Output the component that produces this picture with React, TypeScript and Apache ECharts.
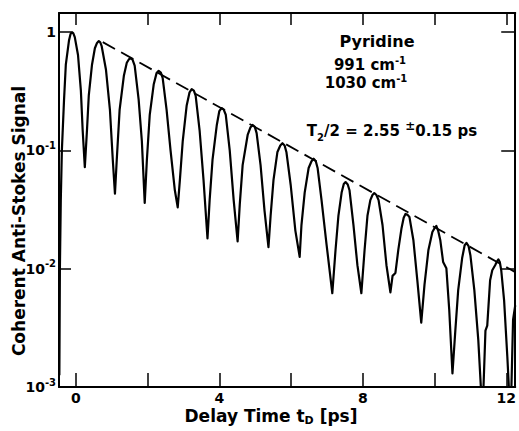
import React, { useEffect, useRef } from 'react';
import * as echarts from 'echarts';

// Delay time t_D [ps] and coherent anti-Stokes signal
const delayTime = [
  -0.46, -0.445, -0.42, -0.39, -0.33, -0.28, -0.19, -0.15, -0.11, -0.07, -0.03, 0.06, 0.14, 0.19, 0.25,
  0.31, 0.36, 0.45, 0.53, 0.59, 0.64, 0.68, 0.72, 0.84, 0.95, 1.03, 1.09,
  1.14, 1.22, 1.34, 1.42, 1.48, 1.53, 1.58, 1.64, 1.75, 1.84, 1.92,
  1.98, 2.06, 2.17, 2.25, 2.31, 2.37, 2.42, 2.53, 2.64, 2.76, 2.84,
  2.9, 2.98, 3.09, 3.17, 3.23, 3.29, 3.34, 3.45, 3.56, 3.67,
  3.73, 3.81, 3.93, 4.0, 4.06, 4.12, 4.18, 4.29, 4.4, 4.51,
  4.57, 4.65, 4.79, 4.87, 4.93, 4.99, 5.04, 5.15, 5.26, 5.37,
  5.43, 5.51, 5.62, 5.7, 5.76, 5.82, 5.87, 5.99, 6.12, 6.24,
  6.29, 6.38, 6.49, 6.57, 6.63, 6.69, 6.74, 6.85, 6.99, 7.15,
  7.24, 7.32, 7.41, 7.47, 7.52, 7.58, 7.63, 7.74, 7.85, 7.96,
  8.05, 8.13, 8.21, 8.27, 8.32, 8.38, 8.44, 8.55, 8.66, 8.77, 8.83, 8.91,
  8.99, 9.08, 9.14, 9.19, 9.25, 9.3, 9.41, 9.52, 9.63,
  9.72, 9.83, 9.94, 10.0, 10.05, 10.1, 10.16, 10.24, 10.33, 10.41, 10.5,
  10.58, 10.66, 10.77, 10.84, 10.89, 10.95, 11.0, 11.11, 11.22, 11.3, 11.36, 11.42, 11.47, 11.55, 11.61,
  11.69, 11.74, 11.78, 11.82, 11.86, 11.94, 12.03, 12.08, 12.14, 12.19, 12.25,
];
const signal = [
  0.00126, 0.0101, 0.038, 0.1, 0.266, 0.53, 0.855, 0.96, 1.0, 0.975, 0.907, 0.64, 0.32, 0.148, 0.072,
  0.148, 0.29, 0.53, 0.73, 0.81, 0.84, 0.82, 0.76, 0.48, 0.22, 0.083, 0.043,
  0.083, 0.22, 0.43, 0.55, 0.59, 0.6, 0.585, 0.52, 0.27, 0.12, 0.036,
  0.083, 0.2, 0.36, 0.45, 0.47, 0.455, 0.41, 0.22, 0.1, 0.046, 0.033,
  0.056, 0.12, 0.24, 0.31, 0.33, 0.32, 0.29, 0.148, 0.056, 0.018,
  0.038, 0.083, 0.164, 0.215, 0.228, 0.222, 0.2, 0.1, 0.038, 0.017,
  0.035, 0.075, 0.135, 0.157, 0.164, 0.158, 0.14, 0.075, 0.031, 0.0152,
  0.028, 0.056, 0.097, 0.11, 0.115, 0.11, 0.097, 0.051, 0.021, 0.0126,
  0.0234, 0.044, 0.071, 0.081, 0.085, 0.081, 0.071, 0.038, 0.016, 0.0062,
  0.0144, 0.028, 0.044, 0.052, 0.054, 0.0515, 0.046, 0.0234, 0.0107, 0.0062,
  0.0144, 0.028, 0.038, 0.042, 0.0436, 0.042, 0.038, 0.0234, 0.0107, 0.0063, 0.0087, 0.0092,
  0.0144, 0.022, 0.027, 0.029, 0.0285, 0.0274, 0.0175, 0.008, 0.0035,
  0.0073, 0.0144, 0.0204, 0.022, 0.023, 0.021, 0.0175, 0.0114, 0.0101, 0.0045, 0.0013,
  0.003, 0.0066, 0.0123, 0.0158, 0.0165, 0.0155, 0.013, 0.0066, 0.0025, 0.0009, 0.0009, 0.003, 0.0033, 0.008, 0.0097,
  0.0107, 0.0115, 0.012, 0.0114, 0.0097, 0.0054, 0.0018, 0.0009, 0.0009, 0.0037, 0.0049,
];

// Exponential envelope (dashed)
const envelopeTime = [0.75, 12.25];
const envelopeSignal = [0.823, 0.00936];

// Axis ticks and labels
const xLabelValues = [0, 4, 8, 12];
const xTickValues = [0, 2, 4, 6, 8, 10, 12];
const yDecadeExponents = [-3, -2, -1, 0];
const yDecadeLabels = ['{b|10}{s|-3}', '{b|10}{s|-2}', '{b|10}{s|-1}', '{b|1}'];

const FONT = 'DejaVu Sans';

export default function App() {
  const ref = useRef<HTMLDivElement>(null);

  useEffect(() => {
    document.body.style.margin = '0';
    const chart = echarts.init(ref.current!, null, { renderer: 'svg' });

    const curve = delayTime.map((t, i) => [t, signal[i]]);
    const envelope = envelopeTime.map((t, i) => [t, envelopeSignal[i]]);

    const xCommon = {
      type: 'value' as const,
      min: -0.47,
      max: 12.25,
      splitLine: { show: false },
      axisLine: { show: true, onZero: false, lineStyle: { color: '#000', width: 2 } },
    };
    const yCommon = {
      type: 'log' as const,
      logBase: 10,
      min: 0.001,
      max: 1.45,
      splitLine: { show: false },
      minorTick: { show: false },
      axisLine: { show: true, onZero: false, lineStyle: { color: '#000', width: 2 } },
    };

    const yLabel = (v: number) => {
      const e = Math.log10(v);
      const r = Math.round(e);
      if (Math.abs(e - r) > 1e-6) return '';
      const idx = yDecadeExponents.indexOf(r);
      return idx >= 0 ? yDecadeLabels[idx] : '';
    };

    const supRich = (size: number, line: number) => ({
      a: { fontFamily: FONT, fontWeight: 'bold', fontSize: size, lineHeight: line, fill: '#000' },
      s: { fontFamily: FONT, fontWeight: 'bold', fontSize: 10, lineHeight: 10, verticalAlign: 'top', fill: '#000' },
    });

    chart.setOption({
      animation: false,
      backgroundColor: '#fff',
      grid: { left: 59, right: 3, top: 13, bottom: 44, containLabel: false },
      xAxis: [
        {
          ...xCommon,
          position: 'bottom',
          axisTick: { show: true, inside: true, length: 14, customValues: xTickValues, lineStyle: { color: '#000', width: 1.5 } },
          axisLabel: {
            customValues: xLabelValues,
            color: '#000',
            fontFamily: FONT,
            fontWeight: 'bold',
            fontSize: 14,
            margin: 4,
          },
        },
        {
          ...xCommon,
          position: 'top',
          axisTick: { show: true, inside: true, length: 12, customValues: xTickValues, lineStyle: { color: '#000', width: 1.5 } },
          axisLabel: { show: false },
        },
      ],
      yAxis: [
        {
          ...yCommon,
          position: 'left',
          axisTick: { show: true, inside: true, length: 12, lineStyle: { color: '#000', width: 1.5 } },
          axisLabel: {
            color: '#000',
            margin: 3,
            formatter: yLabel,
            rich: {
              b: { fontFamily: FONT, fontWeight: 'bold', fontSize: 14, lineHeight: 20, color: '#000' },
              s: { fontFamily: FONT, fontWeight: 'bold', fontSize: 10, lineHeight: 12, verticalAlign: 'top', color: '#000' },
            },
          },
        },
        {
          ...yCommon,
          position: 'right',
          axisTick: { show: true, inside: true, length: 14, lineStyle: { color: '#000', width: 1.5 } },
          axisLabel: { show: false },
        },
      ],
      series: [
        {
          type: 'line',
          data: curve,
          showSymbol: false,
          symbol: 'none',
          clip: true,
          lineStyle: { color: '#000', width: 2.2, join: 'round' },
          xAxisIndex: 0,
          yAxisIndex: 0,
        },
        {
          type: 'line',
          data: envelope,
          showSymbol: false,
          symbol: 'none',
          clip: true,
          lineStyle: { color: '#000', width: 1.8, type: [14, 7] },
          xAxisIndex: 0,
          yAxisIndex: 0,
        },
      ],
      graphic: [
        {
          type: 'text',
          x: 377,
          y: 41,
          style: { text: 'Pyridine', font: `bold 16px "${FONT}"`, fill: '#000', textAlign: 'center', textVerticalAlign: 'middle' },
        },
        {
          type: 'text',
          x: 370,
          y: 65,
          style: {
            text: '{a|991 cm}{s|-1}',
            textAlign: 'center',
            textVerticalAlign: 'middle',
            rich: supRich(15, 20),
          },
        },
        {
          type: 'text',
          x: 366,
          y: 83,
          style: {
            text: '{a|1030 cm}{s|-1}',
            textAlign: 'center',
            textVerticalAlign: 'middle',
            rich: supRich(15, 20),
          },
        },
        {
          type: 'text',
          x: 392,
          y: 131,
          style: {
            text: '{a|T}{d|2}{a|/2 = 2.55 }{p|±}{a|0.15 ps}',
            textAlign: 'center',
            textVerticalAlign: 'middle',
            rich: {
              a: { fontFamily: FONT, fontWeight: 'bold', fontSize: 15, lineHeight: 22, fill: '#000' },
              d: { fontFamily: FONT, fontWeight: 'bold', fontSize: 10, lineHeight: 10, verticalAlign: 'bottom', fill: '#000' },
              p: { fontFamily: FONT, fontWeight: 'bold', fontSize: 12, lineHeight: 14, verticalAlign: 'top', fill: '#000' },
            },
          },
        },
        {
          type: 'text',
          x: 19,
          y: 221,
          rotation: Math.PI / 2,
          style: { text: 'Coherent Anti-Stokes Signal', font: `bold 17px "${FONT}"`, fill: '#000', textAlign: 'center', textVerticalAlign: 'middle' },
        },
        {
          type: 'text',
          x: 271,
          y: 416,
          style: {
            text: '{a|Delay Time t}{d|D}{a| [ps]}',
            textAlign: 'center',
            textVerticalAlign: 'middle',
            rich: {
              a: { fontFamily: FONT, fontWeight: 'bold', fontSize: 17, lineHeight: 20, fill: '#000' },
              d: { fontFamily: FONT, fontWeight: 'bold', fontSize: 11, lineHeight: 11, verticalAlign: 'bottom', fill: '#000' },
            },
          },
        },
      ],
    });

    return () => chart.dispose();
  }, []);

  return <div ref={ref} style={{ position: 'absolute', left: 0, top: 0, width: 519, height: 431 }} />;
}
